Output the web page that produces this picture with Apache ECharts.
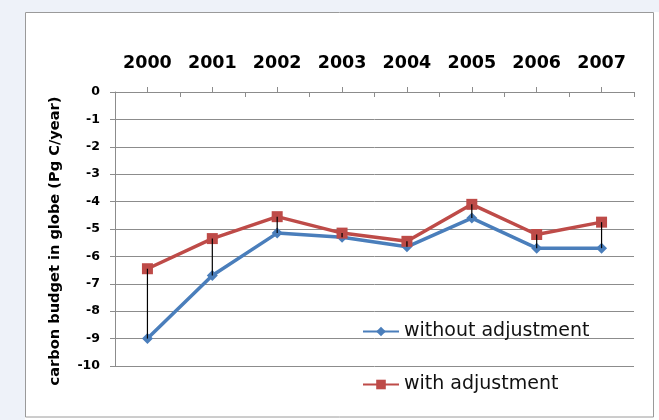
<!DOCTYPE html>
<html><head><meta charset="utf-8">
<script src="https://cdn.jsdelivr.net/npm/echarts@6/dist/echarts.min.js"></script>
<style>html,body{margin:0;padding:0;background:#fff}#c{width:659px;height:420px}</style>
</head><body><div id="c"></div>
<script>
const years = ['2000','2001','2002','2003','2004','2005','2006','2007'];
const withoutAdj = [-9.0, -6.7, -5.15, -5.3, -5.65, -4.6, -5.7, -5.7];
const withAdj = [-6.45, -5.35, -4.55, -5.15, -5.45, -4.1, -5.2, -4.75];
const yMin = -10, yMax = 0, yStep = 1;
const yTitle = 'carbon budget in globe (Pg C/year)';
const seriesNames = ['without adjustment', 'with adjustment'];

const chart = echarts.init(document.getElementById('c'), null, {renderer: 'canvas'});
const grid = '#8c8c8c';
chart.setOption({
  animation: false,
  backgroundColor: '#ffffff',
  graphic: [
    {type: 'rect', z: -10, shape: {x: 0, y: 0, width: 659, height: 12}, style: {fill: '#eef2f9'}},
    {type: 'rect', z: -10, shape: {x: 0, y: 0, width: 25, height: 420}, style: {fill: '#eef2f9'}},
    {type: 'rect', z: -9, shape: {x: 25.5, y: 12.5, width: 628, height: 404.5}, style: {fill: '#ffffff', stroke: '#9a9a9a', lineWidth: 1}},
    {type: 'text', z: 10, x: 55, y: 241, rotation: Math.PI / 2,
     style: {text: yTitle, textAlign: 'center', textVerticalAlign: 'middle', fill: '#000',
             font: 'bold 14.6px "DejaVu Sans"'}}
  ],
  grid: {left: 115, right: 25, top: 92, bottom: 54, containLabel: false},
  legend: {
    orient: 'vertical', left: 357, top: 317, itemWidth: 36, itemHeight: 12, itemGap: 34,
    data: seriesNames,
    textStyle: {fontFamily: 'DejaVu Sans', fontSize: 19, color: '#111'}
  },
  xAxis: [
    {
      type: 'category', data: years, position: 'top', boundaryGap: true,
      axisLine: {show: true, lineStyle: {color: grid, width: 1}},
      axisTick: {show: true, inside: true, length: 5, lineStyle: {color: grid}},
      axisLabel: {margin: 20, fontFamily: 'DejaVu Sans', fontWeight: 'bold', fontSize: 17.5, color: '#000'},
      splitLine: {show: false}
    },
    {
      type: 'category', data: years, position: 'top', boundaryGap: true,
      axisLine: {show: false},
      axisTick: {show: true, alignWithLabel: true, inside: false, length: 5, lineStyle: {color: grid}},
      axisLabel: {show: false},
      splitLine: {show: false}
    }
  ],
  yAxis: {
    type: 'value', min: yMin, max: yMax, interval: yStep,
    axisLine: {show: true, lineStyle: {color: grid, width: 1}},
    axisTick: {show: true, inside: false, length: 5, lineStyle: {color: grid}},
    axisLabel: {margin: 15, fontFamily: 'DejaVu Sans', fontWeight: 'bold', fontSize: 12.5, color: '#000'},
    splitLine: {show: true, lineStyle: {color: grid, width: 1}}
  },
  series: [
    {
      name: seriesNames[0], type: 'line', data: withoutAdj, xAxisIndex: 0,
      symbol: 'diamond', symbolSize: 11, z: 2,
      lineStyle: {color: '#4a7ebb', width: 3.5},
      itemStyle: {color: '#4a7ebb'}
    },
    {
      name: seriesNames[1], type: 'line', data: withAdj, xAxisIndex: 0,
      symbol: 'rect', symbolSize: 11, z: 3,
      lineStyle: {color: '#be4b48', width: 3.5},
      itemStyle: {color: '#be4b48'}
    },
    {
      type: 'custom', xAxisIndex: 0, z: 5, silent: true,
      data: years.map((y, i) => [i, withoutAdj[i], withAdj[i]]),
      encode: {x: 0, y: [1, 2]},
      renderItem: function (params, api) {
        const p1 = api.coord([api.value(0), api.value(1)]);
        const p2 = api.coord([api.value(0), api.value(2)]);
        return {type: 'line', shape: {x1: p1[0], y1: p1[1], x2: p2[0], y2: p2[1]}, style: {stroke: '#000', lineWidth: 1.2}};
      }
    }
  ]
});
</script>
</body></html>
